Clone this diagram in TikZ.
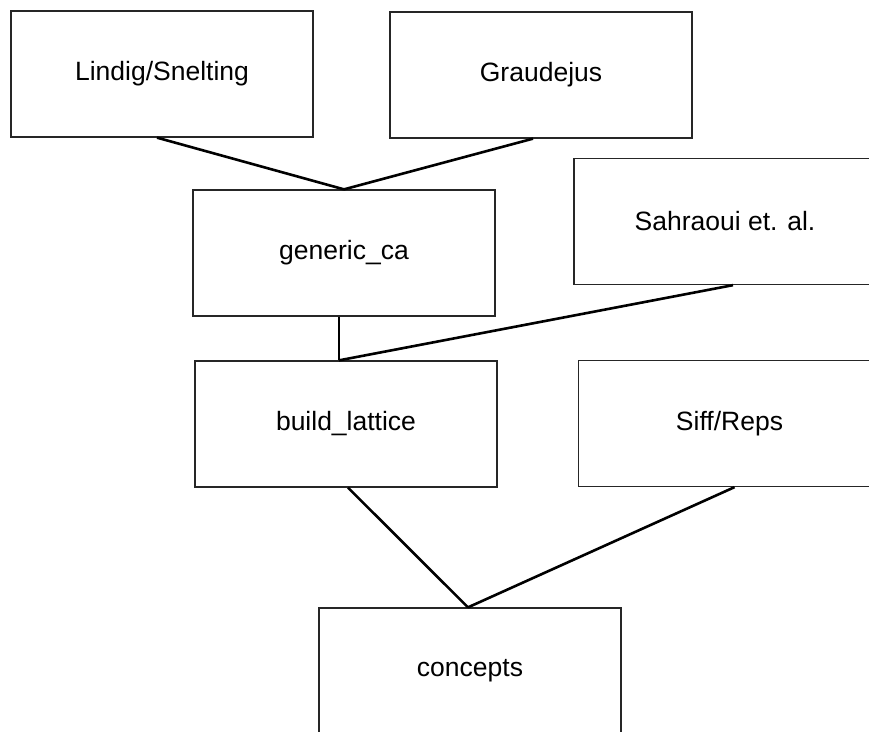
\documentclass[tikz,border=0pt]{standalone}
\usepackage{fontspec}
\setmainfont{Liberation Sans}
\begin{document}
\begin{tikzpicture}[x=1pt,y=-1pt,
  box/.style={draw=black!85, line width=1.3pt, minimum width=302pt, minimum height=126pt, inner sep=0pt, font=\fontsize{26.5}{30}\selectfont},
  link/.style={draw=black, line width=2.6pt}]
\clip (0,0) rectangle (869,731);
\fill[white] (0,0) rectangle (869,731);
\node[box] (lindig) at (162,74) {Lindig/Snelting};
\node[box] (graud) at (541,75) {Graudejus};
\node[box] (sahra) at (725,221.5) {Sahraoui et. al.};
\node[box] (generic) at (344,253) {generic\_ca};
\node[box] (build) at (346,424) {build\_lattice};
\node[box] (siff) at (729.5,423.5) {Siff/Reps};
\node[box] (concepts) at (470,671) {concepts};
\draw[link] ([xshift=-5pt]lindig.south) -- (generic.north);
\draw[link] ([xshift=-8pt]graud.south) -- (generic.north);
\draw[link] ([xshift=-5pt]generic.south) -- ([xshift=-7pt]build.north);
\draw[link] ([xshift=8pt]sahra.south) -- ([xshift=-7pt]build.north);
\draw[link] ([xshift=2pt]build.south) -- ([xshift=-2pt]concepts.north);
\draw[link] ([xshift=5pt]siff.south) -- ([xshift=-2pt]concepts.north);
\end{tikzpicture}
\end{document}
